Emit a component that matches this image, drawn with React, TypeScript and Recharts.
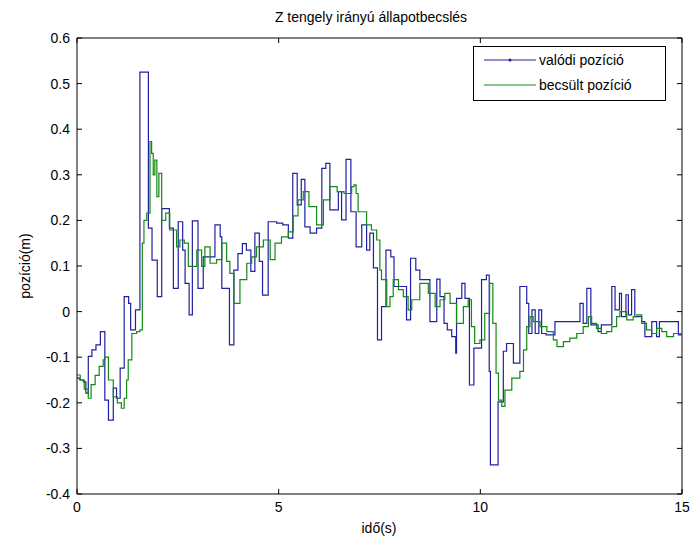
import {LineChart, Line, XAxis, YAxis, ReferenceLine} from "recharts";

// valódi pozíció (step starts, s / m)
const blueT = [
  0.0, 0.07, 0.16, 0.22, 0.28, 0.37, 0.47, 0.58, 0.69, 0.78, 0.9, 0.98, 1.07, 1.17, 1.28, 1.33, 1.45,
  1.56, 1.77, 1.86, 1.99, 2.1, 2.29, 2.39, 2.51, 2.62, 2.68, 2.78, 2.86, 3.0, 3.13, 3.42, 3.55, 3.59,
  3.78, 3.89, 3.99, 4.1, 4.2, 4.31, 4.41, 4.52, 4.6, 4.74, 4.95, 5.1, 5.24, 5.35, 5.46, 5.56, 5.65,
  5.78, 5.94, 6.07, 6.17, 6.27, 6.48, 6.56, 6.67, 6.79, 6.92, 7.06, 7.18, 7.26, 7.35, 7.45, 7.55,
  7.66, 7.78, 7.86, 8.17, 8.27, 8.4, 8.5, 8.75, 8.92, 9.0, 9.1, 9.18, 9.29, 9.39, 9.41, 9.54, 9.62,
  9.73, 9.84, 10.03, 10.15, 10.22, 10.25, 10.44, 10.57, 10.65, 10.82, 10.98, 11.15, 11.2, 11.28,
  11.36, 11.45, 11.52, 11.63, 11.85, 12.47, 12.55, 12.64, 12.74, 12.92, 13.0, 13.26, 13.34, 13.45,
  13.5, 13.61, 13.67, 13.75, 13.83, 14.0, 14.08, 14.25, 14.37, 14.44, 14.91, 15.0,
];
const blueV = [
  -0.146, -0.15, -0.154, -0.179, -0.098, -0.084, -0.073, -0.044, -0.194, -0.238, -0.168, -0.19,
  -0.124, 0.033, 0.018, -0.04, 0.004, 0.525, 0.183, 0.113, 0.033, 0.226, 0.183, 0.051, 0.197, 0.135,
  0.062, -0.007, 0.199, 0.051, 0.12, 0.19, 0.164, 0.051, -0.073, 0.091, 0.127, 0.149, 0.135, 0.088,
  0.172, 0.11, 0.036, 0.197, 0.194, 0.19, 0.161, 0.303, 0.234, 0.29, 0.186, 0.172, 0.183, 0.314,
  0.325, 0.223, 0.263, 0.201, 0.334, 0.219, 0.142, 0.19, 0.135, 0.172, 0.096, -0.062, 0.011, 0.135,
  0.12, 0.055, -0.018, 0.117, 0.091, 0.07, -0.022, 0.071, 0.033, -0.026, -0.04, -0.055, -0.091,
  0.029, 0.062, 0.029, -0.161, -0.08, 0.07, 0.08, -0.131, -0.336, -0.198, -0.087, -0.07, -0.113,
  0.055, 0.018, -0.048, 0.004, -0.048, 0.004, -0.048, -0.051, -0.022, 0.018, -0.026, 0.051, -0.029,
  -0.044, -0.029, 0.055, 0.004, 0.04, -0.011, 0.037, -0.007, 0.048, -0.011, -0.022, -0.055, -0.022,
  -0.055, -0.022, -0.051, -0.051,
];

// becsült pozíció
const greenT = [
  0.0, 0.08, 0.18, 0.28, 0.35, 0.45, 0.55, 0.65, 0.69, 0.78, 0.9, 1.0, 1.1, 1.17, 1.23, 1.27, 1.36,
  1.48, 1.56, 1.62, 1.66, 1.73, 1.81, 1.85, 1.89, 1.93, 1.98, 2.03, 2.1, 2.2, 2.3, 2.47, 2.55, 2.66,
  2.76, 2.97, 3.09, 3.17, 3.3, 3.46, 3.59, 3.71, 3.79, 3.89, 4.04, 4.21, 4.33, 4.45, 4.62, 4.79,
  4.91, 5.07, 5.24, 5.36, 5.48, 5.61, 5.75, 5.94, 6.11, 6.27, 6.45, 6.62, 6.81, 6.87, 6.92, 6.97,
  7.18, 7.3, 7.43, 7.51, 7.55, 7.68, 7.76, 7.84, 7.97, 8.09, 8.21, 8.3, 8.5, 8.71, 8.88, 9.0, 9.12,
  9.25, 9.41, 9.58, 9.7, 9.78, 9.86, 9.99, 10.11, 10.23, 10.31, 10.39, 10.45, 10.53, 10.61, 10.78,
  10.98, 11.07, 11.15, 11.23, 11.31, 11.48, 11.65, 11.81, 11.9, 12.06, 12.22, 12.39, 12.55, 12.68,
  12.76, 12.88, 13.0, 13.13, 13.26, 13.38, 13.46, 13.63, 13.79, 13.88, 14.0, 14.12, 14.25, 14.37,
  14.5, 14.62, 14.79, 15.0,
];
const greenV = [
  -0.139, -0.15, -0.17, -0.19, -0.16, -0.14, -0.12, -0.106, -0.1, -0.15, -0.187, -0.2, -0.212,
  -0.19, -0.15, -0.106, -0.048, -0.044, -0.04, 0.15, 0.2, 0.216, 0.373, 0.347, 0.3, 0.332, 0.252,
  0.303, 0.2, 0.216, 0.179, 0.142, 0.157, 0.15, 0.099, 0.135, 0.099, 0.142, 0.106, 0.114, 0.15,
  0.11, 0.084, 0.018, 0.07, 0.106, 0.12, 0.142, 0.157, 0.114, 0.15, 0.164, 0.175, 0.21, 0.245,
  0.263, 0.23, 0.19, 0.245, 0.274, 0.263, 0.259, 0.274, 0.278, 0.259, 0.219, 0.19, 0.179, 0.157,
  0.091, 0.07, 0.011, 0.033, 0.07, 0.048, 0.033, 0.004, 0.026, 0.062, 0.04, 0.011, 0.026, 0.04,
  0.018, -0.026, 0.011, 0.026, -0.033, -0.07, -0.062, -0.004, 0.062, -0.026, -0.135, -0.194,
  -0.208, -0.172, -0.146, -0.131, -0.084, -0.033, -0.011, -0.022, -0.033, -0.044, -0.062, -0.077,
  -0.066, -0.058, -0.048, -0.033, -0.011, -0.026, -0.037, -0.048, -0.044, -0.033, -0.011, 0.0,
  -0.018, -0.011, -0.007, -0.026, -0.04, -0.048, -0.037, -0.044, -0.055, -0.048, -0.051,
];

const xTicks = [0, 5, 10, 15];
const yTicks = [-0.4, -0.3, -0.2, -0.1, 0, 0.1, 0.2, 0.3, 0.4, 0.5, 0.6];

const blueData = blueT.map((t, i) => ({t, v: blueV[i]}));
const greenData = greenT.map((t, i) => ({t, v: greenV[i]}));

const X_MIN = 0;
const X_MAX = 15;
const Y_MIN = -0.4;
const Y_MAX = 0.6;
// inward tick length for the mirrored (top/right) box ticks, in data units (~5px)
const X_TICK_LEN = 0.125;
const Y_TICK_LEN = 0.011;

const BLUE = "#2020a0";
const GREEN = "#138a13";
const font = "'Liberation Sans', Arial, sans-serif";

export default function App() {
  const tickStyle = {fill: "#000", fontSize: 14, fontFamily: font};
  return (
    <div
      style={{
        position: "absolute",
        left: 0,
        top: 0,
        width: 690,
        height: 541,
        background: "#fff",
        fontFamily: font,
        color: "#000",
      }}
    >
      <LineChart width={690} height={541} margin={{top: 38, right: 8, bottom: 17, left: 37}}>
        <XAxis
          type="number"
          dataKey="t"
          domain={[X_MIN, X_MAX]}
          ticks={xTicks}
          allowDataOverflow
          height={30}
          tickSize={-5}
          tickMargin={13}
          stroke="#000"
          tick={tickStyle}
        />
        <YAxis
          type="number"
          domain={[Y_MIN, Y_MAX]}
          ticks={yTicks}
          allowDataOverflow
          width={40}
          tickSize={-5}
          tickMargin={12}
          stroke="#000"
          tick={tickStyle}
          tickFormatter={(v: number) => String(Number(v.toFixed(1)))}
        />
        {/* box: top and right edges with inward ticks */}
        <ReferenceLine y={Y_MAX} stroke="#000" />
        <ReferenceLine x={X_MAX} stroke="#000" />
        {yTicks.map((v) => (
          <ReferenceLine
            key={"ry" + v}
            segment={[
              {x: X_MAX - X_TICK_LEN, y: v},
              {x: X_MAX, y: v},
            ]}
            stroke="#000"
          />
        ))}
        {xTicks.map((t) => (
          <ReferenceLine
            key={"tx" + t}
            segment={[
              {x: t, y: Y_MAX},
              {x: t, y: Y_MAX - Y_TICK_LEN},
            ]}
            stroke="#000"
          />
        ))}
        <Line
          data={blueData}
          dataKey="v"
          type="stepAfter"
          stroke={BLUE}
          strokeWidth={1.2}
          dot={false}
          isAnimationActive={false}
        />
        <Line
          data={greenData}
          dataKey="v"
          type="stepAfter"
          stroke={GREEN}
          strokeWidth={1.2}
          dot={false}
          isAnimationActive={false}
        />
      </LineChart>

      <div
        style={{
          position: "absolute",
          left: 371,
          top: 17,
          transform: "translate(-50%, -50%)",
          fontSize: 14,
          whiteSpace: "nowrap",
        }}
      >
        Z tengely irányú állapotbecslés
      </div>
      <div
        style={{
          position: "absolute",
          left: 379,
          top: 528,
          transform: "translate(-50%, -50%)",
          fontSize: 14,
          whiteSpace: "nowrap",
        }}
      >
        idő(s)
      </div>
      <div
        style={{
          position: "absolute",
          left: 25,
          top: 266,
          transform: "translate(-50%, -50%) rotate(-90deg)",
          fontSize: 14,
          whiteSpace: "nowrap",
        }}
      >
        pozíció(m)
      </div>

      <div
        style={{
          position: "absolute",
          left: 473,
          top: 46,
          width: 191,
          height: 53,
          border: "1px solid #000",
          background: "#fff",
          fontSize: 14,
        }}
      >
        {[
          {name: "valódi pozíció", color: BLUE, dot: true, y: 13},
          {name: "becsült pozíció", color: GREEN, dot: false, y: 38},
        ].map((e) => (
          <div
            key={e.name}
            style={{position: "absolute", left: 9, top: e.y - 9, height: 18, display: "flex", alignItems: "center"}}
          >
            <svg width={54} height={18}>
              <line x1={1} x2={53} y1={9} y2={9} stroke={e.color} strokeWidth={1.2} />
              {e.dot && <circle cx={27} cy={9} r={1.5} fill={e.color} />}
            </svg>
            <span style={{marginLeft: 2, whiteSpace: "nowrap"}}>{e.name}</span>
          </div>
        ))}
      </div>
    </div>
  );
}
